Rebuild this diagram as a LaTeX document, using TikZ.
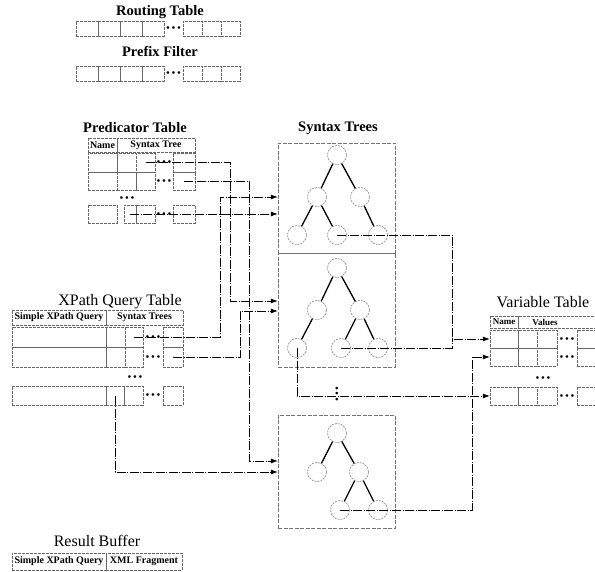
\documentclass[tikz,border=0pt]{standalone}
\usepackage{fontspec}
\setmainfont{Liberation Serif}
\usetikzlibrary{arrows.meta,calc,positioning}

% table cell from (x1,y1) to (x2,y2), picture units
\newcommand{\tcell}[5]{%
  \node[cell,minimum width={(#4-#2)*1pt},minimum height={(#5-#3)*1pt}] (#1) at ({(#2+#4)/2},{(#3+#5)/2}) {};}

\tikzset{
  cell/.style={draw=black!60,dash pattern=on 3pt off 1pt,line width=0.5pt,inner sep=0pt},
  frame/.style={draw=black!55,dash pattern=on 4pt off 1.5pt,line width=0.5pt,inner sep=0pt},
  ttl/.style={font=\bfseries\fontsize{14.5}{16}\selectfont,inner sep=0pt},
  bigttl/.style={font=\fontsize{16}{18}\selectfont,inner sep=0pt},
  hdr/.style={font=\bfseries\fontsize{10}{11}\selectfont,inner sep=0pt},
  dts/.style={font=\fontsize{6}{6}\selectfont,inner sep=0pt},
  vert/.style={circle,draw=black!55,dash pattern=on 2pt off 1pt,line width=0.5pt,minimum size=19pt,inner sep=0pt},
  tedge/.style={line width=1.3pt},
  link/.style={line width=0.6pt,dash pattern=on 9pt off 1.5pt on 1pt off 1.5pt},
  arr/.style={link,-{Latex[length=7pt,width=5pt]}}
}

\begin{document}
\begin{tikzpicture}[x=1pt,y=-1pt]
  \useasboundingbox (0,0) rectangle (595,572);
  \clip (0,0) rectangle (595,572);

  % routing table and prefix filter
  \node[ttl] (rtT) at (160,12) {Routing Table};
  \foreach \i/\xa in {1/76,2/98,3/120,4/142}{\tcell{rtl\i}{\xa}{21}{\xa+22}{36}}
  \foreach \i/\xa in {1/183,2/202,3/221}{\tcell{rtr\i}{\xa}{21}{\xa+19}{36}}
  \node[dts] (rtd) at (173.5,28.5) {$\bullet\bullet\bullet$};
  \node[ttl] (pfT) at (160,51) {Prefix Filter};
  \foreach \i/\xa in {1/76,2/98,3/120,4/142}{\tcell{pfl\i}{\xa}{66}{\xa+22}{81}}
  \foreach \i/\xa in {1/183,2/202,3/221}{\tcell{pfr\i}{\xa}{66}{\xa+19}{81}}
  \node[dts] (pfd) at (173.5,73.5) {$\bullet\bullet\bullet$};

  % predicator table
  \node[ttl] (pT) at (135,128) {Predicator Table};
  \tcell{pHa}{88}{138}{117}{152}
  \tcell{pHb}{117}{138}{195}{152}
  \node[hdr] (pHn) at (pHa) {Name};
  \node[hdr] (pHs) at (pHb) {Syntax Tree};
  \foreach \r/\ya/\yb in {1/153/172,2/172/190}{
    \tcell{pa\r}{88}{\ya}{117}{\yb}
    \tcell{pb\r}{117}{\ya}{136}{\yb}
    \tcell{pc\r}{136}{\ya}{155}{\yb}
    \tcell{pd\r}{173}{\ya}{195}{\yb}
    \node[dts] (pe\r) at (164,{(\ya+\yb)/2}) {$\bullet\bullet\bullet$};
  }
  \node[dts] (pv) at (127,198) {$\bullet\bullet\bullet$};
  \tcell{pa3}{88}{205}{117}{223}
  \tcell{pb3}{124}{205}{136}{223}
  \tcell{pc3}{136}{205}{155}{223}
  \tcell{pd3}{173}{205}{195}{223}
  \node[dts] (pe3) at (164,214) {$\bullet\bullet\bullet$};

  % xpath query table
  \node[bigttl] (xT) at (120,302) {XPath Query Table};
  \tcell{xHa}{12}{310}{106}{325}
  \tcell{xHb}{106}{310}{183}{325}
  \node[hdr] (xHq) at (xHa) {Simple XPath Query};
  \node[hdr] (xHs) at (xHb) {Syntax Trees};
  \foreach \r/\ya/\yb in {1/327/347,2/347/367}{
    \tcell{xa\r}{12}{\ya}{106}{\yb}
    \tcell{xb\r}{106}{\ya}{125}{\yb}
    \tcell{xc\r}{125}{\ya}{143}{\yb}
    \tcell{xd\r}{163}{\ya}{183}{\yb}
    \node[dts] (xe\r) at (153,{(\ya+\yb)/2}) {$\bullet\bullet\bullet$};
  }
  \node[dts] (xv) at (135,377) {$\bullet\bullet\bullet$};
  \tcell{xa3}{12}{386}{106}{405}
  \tcell{xb3}{106}{386}{124}{405}
  \tcell{xc3}{124}{386}{143}{405}
  \tcell{xd3}{163}{386}{183}{405}
  \node[dts] (xe3) at (153,395.5) {$\bullet\bullet\bullet$};

  % syntax trees
  \node[ttl] (sT) at (338,128) {Syntax Trees};
  \node[frame,minimum width=117pt,minimum height=110pt] (tbT) at (336.5,198) {};
  \node[frame,minimum width=117pt,minimum height=114pt] (tbM) at (336.5,310) {};
  \node[frame,minimum width=117pt,minimum height=113pt] (tbB) at (336.5,471.5) {};
  \node[vert] (t0) at (337,155) {};
  \node[vert] (t1) at (317,197) {};
  \node[vert] (t2) at (360,197) {};
  \node[vert] (t3) at (297,235) {};
  \node[vert] (t4) at (337,235) {};
  \node[vert] (t5) at (378,235) {};
  \draw[tedge] (t0) -- (t1);
  \draw[tedge] (t0) -- (t2);
  \draw[tedge] (t1) -- (t3);
  \draw[tedge] (t1) -- (t4);
  \draw[tedge] (t2) -- (t5);
  \node[vert] (m0) at (337,268) {};
  \node[vert] (m1) at (317,310) {};
  \node[vert] (m2) at (360,310) {};
  \node[vert] (m3) at (297,348) {};
  \node[vert] (m4) at (341,348) {};
  \node[vert] (m5) at (378,348) {};
  \draw[tedge] (m0) -- (m1);
  \draw[tedge] (m0) -- (m2);
  \draw[tedge] (m1) -- (m3);
  \draw[tedge] (m2) -- (m4);
  \draw[tedge] (m2) -- (m5);
  \node[vert] (b0) at (337,433) {};
  \node[vert] (b1) at (317,472) {};
  \node[vert] (b2) at (359,472) {};
  \node[vert] (b3) at (340,510) {};
  \node[vert] (b4) at (378,510) {};
  \draw[tedge] (b0) -- (b1);
  \draw[tedge] (b0) -- (b2);
  \draw[tedge] (b2) -- (b3);
  \draw[tedge] (b2) -- (b4);

  % variable table
  \node[bigttl] (vT) at (543,302) {Variable Table};
  \tcell{vHa}{490}{316}{518}{328}
  \tcell{vHb}{518}{316}{610}{328}
  \node[hdr,font=\bfseries\fontsize{9}{10}\selectfont] (vHn) at (vHa) {Name};
  \node[hdr,font=\bfseries\fontsize{9}{10}\selectfont] (vHv) at (545,322) {Values};
  \foreach \r/\ya/\yb in {1/330/348,2/348/366,3/387/405}{
    \tcell{va\r}{490}{\ya}{518}{\yb}
    \tcell{vb\r}{518}{\ya}{537}{\yb}
    \tcell{vc\r}{537}{\ya}{557}{\yb}
    \tcell{vd\r}{577}{\ya}{610}{\yb}
    \node[dts] (ve\r) at (567,{(\ya+\yb)/2}) {$\bullet\bullet\bullet$};
  }
  \node[dts] (vv) at (543,378) {$\bullet\bullet\bullet$};

  % result buffer
  \node[bigttl] (rT) at (97,541) {Result Buffer};
  \tcell{rHa}{12}{553}{106}{570}
  \tcell{rHb}{106}{553}{182}{570}
  \node[hdr] (rHq) at (rHa) {Simple XPath Query};
  \node[hdr] (rHx) at (rHb) {XML Fragment};

  % links from the tables to the trees
  \coordinate (k1) at (230,301);
  \coordinate (k2) at (249,461);
  \coordinate (k3) at (220,197);
  \coordinate (k4) at (240,311);
  \coordinate (k5) at (0,472);
  \draw[arr] (pc1.center) -| (k1) -- (tbM.west |- k1);
  \draw[arr] (pd2.center) -| (k2) -- (tbB.west |- k2);
  \draw[arr] (pb3.center) -- (tbT.west |- pb3.center);
  \draw[arr] (xc1.center) -| (k3) -- (tbT.west |- k3);
  \draw[arr] (xd2.center) -| (k4) -- (tbM.west |- k4);
  \draw[arr] (xb3.center) |- (tbB.west |- k5);

  % links from the trees to the variable table
  \coordinate (k6) at (452,0);
  \coordinate (k7) at (472,0);
  \draw[arr] (t4.center) -| (k6 |- va1.west) -- (va1.west);
  \draw[link] (m4.center) -| (k6 |- va1.west);
  \draw[arr] (b3.center) -| (k7 |- va2.west) -- (va2.west);
  \draw[arr] (m3.center) |- (va3.west);
  \node[dts,rotate=90] (vd) at (337,394) {$\bullet\bullet\bullet$};
\end{tikzpicture}
\end{document}
